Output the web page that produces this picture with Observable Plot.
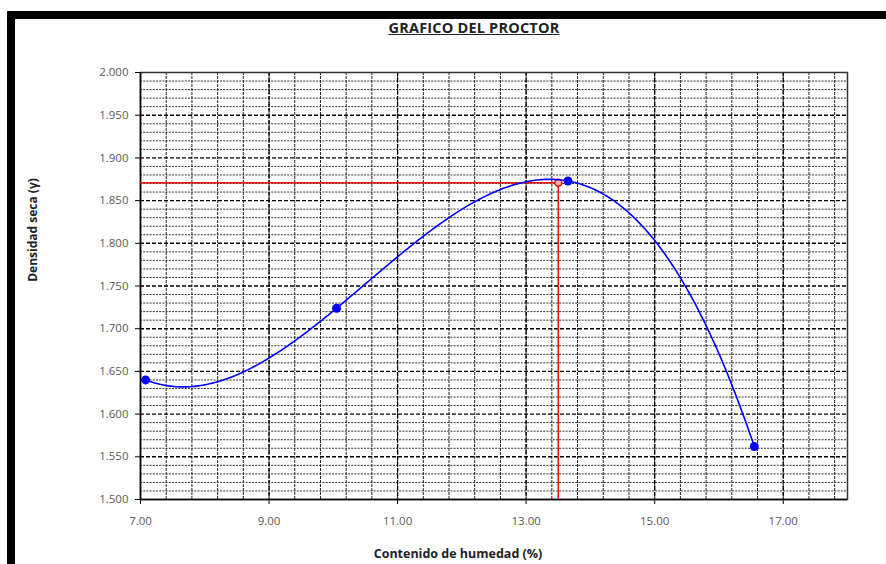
<!DOCTYPE html>
<html>
<head>
<meta charset="utf-8">
<script src="https://cdn.jsdelivr.net/npm/d3@7"></script>
<script src="https://cdn.jsdelivr.net/npm/@observablehq/plot@0.6"></script>
<style>
  body { margin: 0; background: #fff; }
  #wrap { position: relative; width: 886px; height: 564px; overflow: hidden; background: #fff; font-family: "Open Sans", sans-serif; }
  #chart { position: absolute; left: 0; top: 0; }
  .bar-top { position: absolute; left: 7px; top: 11px; width: 879px; height: 8px; background: #000; }
  .bar-left { position: absolute; left: 7px; top: 11px; width: 8px; height: 553px; background: #000; }
  #title { position: absolute; left: 324px; width: 300px; top: 18px; text-align: center; font-weight: bold; font-size: 14.5px; text-decoration: underline; color: #222; letter-spacing: 0.2px; }
  #xlabel { position: absolute; left: 308px; width: 300px; top: 545px; text-align: center; font-weight: bold; font-size: 12.5px; color: #222; }
  #ylabel { position: absolute; left: -117px; width: 300px; top: 221px; text-align: center; font-weight: bold; font-size: 12px; color: #222; transform: rotate(-90deg); transform-origin: 150px 9px; }
</style>
</head>
<body>
<div id="wrap">
  <div id="chart"></div>
  <div class="bar-top"></div>
  <div class="bar-left"></div>
  <div id="title">GRAFICO DEL PROCTOR</div>
  <div id="xlabel">Contenido de humedad (%)</div>
  <div id="ylabel">Densidad seca (γ)</div>
</div>
<script>
// ---- data ----
const moisture = [7.08, 10.05, 13.65, 16.55];      // Contenido de humedad (%)
const density  = [1.640, 1.724, 1.873, 1.562];     // Densidad seca
const optMoisture = 13.50;                         // humedad óptima
const maxDensity  = 1.871;                         // densidad seca máxima

const xDomain = [7, 18];
const yDomain = [1.5, 2.0];
const xTicks = [7, 9, 11, 13, 15, 17];
const yTicks = [1.50, 1.55, 1.60, 1.65, 1.70, 1.75, 1.80, 1.85, 1.90, 1.95, 2.00];
const xGridStep = 0.4;
const yGridStep = 0.01;

// gridline positions derived from domain and step
const xGrid = d3.range(0, Math.round((xDomain[1] - xDomain[0]) / xGridStep)).map(i => +(xDomain[0] + i * xGridStep).toFixed(4)).filter(v => v > xDomain[0]);
const yGridAll = d3.range(1, Math.round((yDomain[1] - yDomain[0]) / yGridStep)).map(i => +(yDomain[0] + i * yGridStep).toFixed(4));
const yGridMinor = yGridAll.filter(v => !yTicks.some(t => Math.abs(t - v) < 1e-6));
const yGridMajor = yTicks.filter(v => v > yDomain[0] && v < yDomain[1]);

const points = moisture.map((m, i) => ({x: m, y: density[i]}));

// Order-3 polynomial trendline curve (exact through the 4 points), as a d3 curve factory
function polyTrendCurve(context) {
  let pts;
  return {
    areaStart() {}, areaEnd() {},
    lineStart() { pts = []; },
    point(x, y) { pts.push([+x, +y]); },
    lineEnd() {
      const n = pts.length;
      if (!n) return;
      const a = pts[0][0], b = pts[n - 1][0];
      const steps = 300;
      for (let k = 0; k <= steps; ++k) {
        const x = a + (b - a) * k / steps;
        let y = 0;
        for (let i = 0; i < n; ++i) {
          let l = 1;
          for (let j = 0; j < n; ++j) if (j !== i) l *= (x - pts[j][0]) / (pts[i][0] - pts[j][0]);
          y += l * pts[i][1];
        }
        if (k === 0) context.moveTo(x, y); else context.lineTo(x, y);
      }
    }
  };
}

const chart = Plot.plot({
  width: 886,
  height: 564,
  marginLeft: 140,
  marginRight: 39,
  marginTop: 72,
  marginBottom: 65,
  x: {domain: xDomain},
  y: {domain: yDomain},
  style: {fontFamily: "Open Sans, sans-serif", fontSize: "11.5px", background: "transparent", overflow: "visible"},
  marks: [
    Plot.ruleY(yGridMinor, {stroke: "#333", strokeWidth: 1, strokeDasharray: "2,1.2"}),
    Plot.ruleX(xGrid, {stroke: "#222", strokeWidth: 1, strokeDasharray: "3,1"}),
    Plot.ruleY(yGridMajor, {stroke: "#000", strokeWidth: 1.4, strokeDasharray: "4,2"}),
    Plot.ruleX(xTicks.filter(v => v > xDomain[0]), {stroke: "#000", strokeWidth: 1.3, strokeDasharray: "4,2"}),
    Plot.frame({stroke: "#333", strokeWidth: 1.5}),
    Plot.ruleX([xDomain[0]], {stroke: "#000", strokeWidth: 1.5}),
    Plot.ruleY([yDomain[0]], {stroke: "#000", strokeWidth: 1.5}),
    Plot.axisY(yTicks, {tickFormat: d3.format(".3f"), tickSize: 5, tickPadding: 7, label: null, stroke: "#000", fill: "#595959"}),
    Plot.axisX(xTicks, {tickFormat: d3.format(".2f"), tickSize: 5, tickPadding: 12, label: null, stroke: "#000", fill: "#595959"}),
    Plot.ruleY([maxDensity], {x1: xDomain[0], x2: optMoisture, stroke: "#ee1111", strokeWidth: 1.5}),
    Plot.ruleX([optMoisture], {y1: yDomain[0], y2: maxDensity, stroke: "#ee1111", strokeWidth: 1.5}),
    Plot.dot([{x: optMoisture, y: maxDensity}], {x: "x", y: "y", r: 3.5, stroke: "#ee1111", strokeWidth: 1.5, fill: "#ffb0b0"}),
    Plot.line(points, {x: "x", y: "y", curve: polyTrendCurve, stroke: "#0000ff", strokeWidth: 1.6}),
    Plot.dot(points, {x: "x", y: "y", r: 4.5, fill: "#0000ff", stroke: "none"})
  ]
});
document.getElementById("chart").appendChild(chart);
</script>
</body>
</html>
